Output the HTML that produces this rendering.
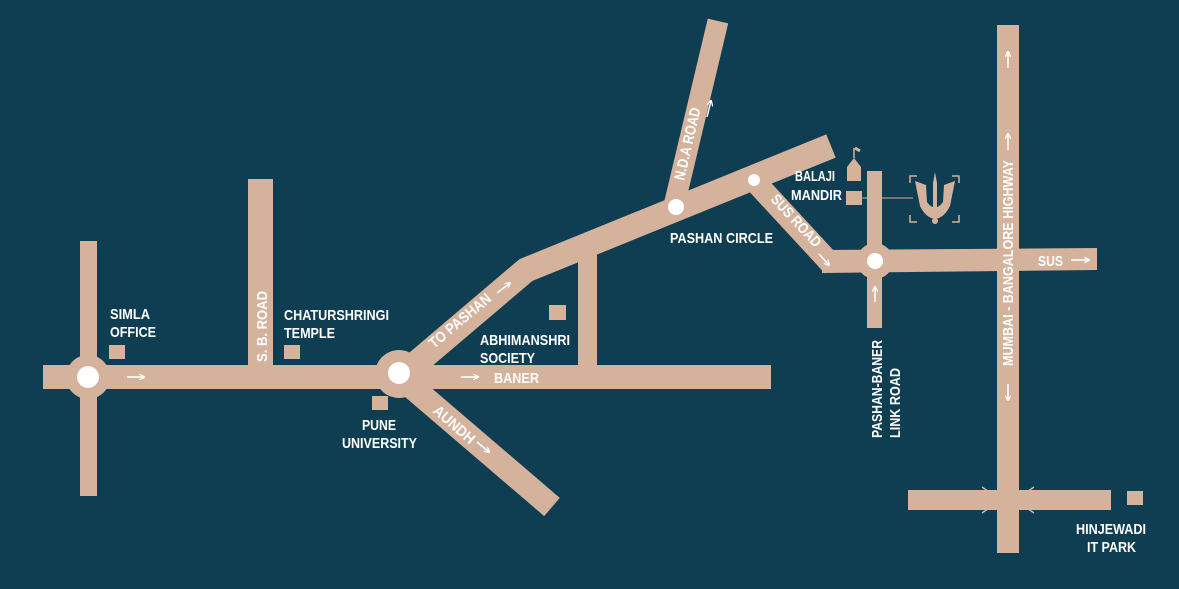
<!DOCTYPE html>
<html><head><meta charset="utf-8"><style>
html,body{margin:0;padding:0;background:#0f3d51;}
svg{display:block}
text{font-family:"Liberation Sans",sans-serif;font-weight:bold;fill:#fff;font-size:15px;}
</style></head><body>
<svg width="1179" height="589" viewBox="0 0 1179 589" xmlns="http://www.w3.org/2000/svg">
<rect width="1179" height="589" fill="#0f3d51"/>
<defs>
<marker id="ah" markerWidth="6" markerHeight="6" refX="5" refY="3" orient="auto" markerUnits="userSpaceOnUse"><path d="M0,0 L6,3 L0,6" fill="none" stroke="#fff" stroke-width="1.3"/></marker>
</defs>
<g fill="#d5b29c" stroke="none">
<rect x="43" y="365" width="728" height="24"/>
<rect x="80" y="241" width="17" height="255"/>
<circle cx="88" cy="377" r="22"/>
<rect x="248" y="179" width="25" height="190"/>
<circle cx="399" cy="374" r="24"/>
<rect x="578" y="255" width="19" height="112"/>
<rect x="997" y="25" width="22" height="528"/>
<rect x="908" y="490" width="203" height="20"/>
<rect x="867" y="171" width="15" height="157"/>
<circle cx="875" cy="261" r="18"/>
<polygon points="822,250 1097,248 1097,270 822,273"/>
<rect x="109" y="345" width="16" height="14"/>
<rect x="284" y="345" width="16" height="14"/>
<rect x="372" y="396" width="16" height="14"/>
<rect x="549" y="305" width="17" height="15"/>
<rect x="1127" y="491" width="16" height="14"/>
<rect x="847" y="167" width="14" height="14"/>
<rect x="846" y="191" width="16" height="14"/>
<polygon points="847,167 854,158 861,167"/>
</g>
<g stroke="#d5b29c" fill="none" stroke-linecap="butt">
<line x1="399" y1="376" x2="552" y2="507" stroke-width="24"/>
<polyline points="394,382 526,270 831,146" stroke-width="25" stroke-linejoin="round"/>
<line x1="673" y1="210" x2="718" y2="21" stroke-width="21"/>
<line x1="748" y1="174" x2="833" y2="266" stroke-width="22"/>
<line x1="854" y1="158" x2="854" y2="148" stroke-width="1.5"/>
</g>
<line x1="855" y1="148" x2="860" y2="151" stroke="#d5b29c" stroke-width="3"/>
<g stroke="#d5b29c" stroke-width="1.5">
<line x1="982" y1="487" x2="989" y2="492"/><line x1="982" y1="513" x2="989" y2="508"/>
<line x1="1034" y1="487" x2="1027" y2="492"/><line x1="1034" y1="513" x2="1027" y2="508"/>
</g>
<g fill="#fff">
<circle cx="88" cy="377" r="11"/>
<circle cx="399" cy="373" r="11"/>
<circle cx="676" cy="207" r="8"/>
<circle cx="754" cy="180" r="6"/>
<circle cx="875" cy="261" r="8"/>
</g>
<g stroke="#fff" stroke-width="1.5" marker-end="url(#ah)">
<line x1="127" y1="377" x2="144" y2="377"/>
<line x1="461" y1="377" x2="478" y2="377"/>
<line x1="1071" y1="260" x2="1089" y2="260"/>
<line x1="875" y1="302" x2="875" y2="287"/>
<line x1="1008" y1="68" x2="1008" y2="52"/>
<line x1="1008" y1="150" x2="1008" y2="134"/>
<line x1="1008" y1="384" x2="1008" y2="400"/>
<line x1="497" y1="293" x2="510" y2="283"/>
<line x1="477" y1="442" x2="489" y2="452"/>
<line x1="819" y1="254" x2="829" y2="265"/>
<line x1="707" y1="117" x2="711" y2="101"/>
</g>
<line x1="862" y1="198" x2="913" y2="198" stroke="#d5b29c" stroke-width="1"/>
<g fill="none" stroke="#d5b29c" stroke-width="1.5">
<polyline points="910,183 910,176 917,176"/><polyline points="952,176 959,176 959,183"/>
<polyline points="910,215 910,222 917,222"/><polyline points="952,222 959,222 959,215"/>
</g>
<g fill="#d5b29c">
<path d="M915,181 L926,185 L927,202 Q935,213 943,202 L944,185 L955,181 L950,206 Q944,218 935,219 Q926,218 920,206 Z"/>
<polygon points="933,183 935,172 937,183 937,209 933,209"/>
<circle cx="935" cy="221" r="3"/>
</g>
<text x="110" y="319" textLength="40" lengthAdjust="spacingAndGlyphs">SIMLA</text>
<text x="110" y="337" textLength="46" lengthAdjust="spacingAndGlyphs">OFFICE</text>
<text x="284" y="320" textLength="105" lengthAdjust="spacingAndGlyphs">CHATURSHRINGI</text>
<text x="284" y="338" textLength="51" lengthAdjust="spacingAndGlyphs">TEMPLE</text>
<text x="362" y="430" textLength="34" lengthAdjust="spacingAndGlyphs">PUNE</text>
<text x="342" y="448" textLength="75" lengthAdjust="spacingAndGlyphs">UNIVERSITY</text>
<text x="480" y="345" textLength="90" lengthAdjust="spacingAndGlyphs">ABHIMANSHRI</text>
<text x="480" y="363" textLength="55" lengthAdjust="spacingAndGlyphs">SOCIETY</text>
<text x="494" y="383" textLength="45" lengthAdjust="spacingAndGlyphs">BANER</text>
<text x="670" y="243" textLength="103" lengthAdjust="spacingAndGlyphs">PASHAN CIRCLE</text>
<text x="795" y="181" textLength="40" lengthAdjust="spacingAndGlyphs">BALAJI</text>
<text x="791" y="200" textLength="51" lengthAdjust="spacingAndGlyphs">MANDIR</text>
<text x="1038" y="266" textLength="25" lengthAdjust="spacingAndGlyphs">SUS</text>
<text x="1076" y="534" textLength="70" lengthAdjust="spacingAndGlyphs">HINJEWADI</text>
<text x="1087" y="552" textLength="49" lengthAdjust="spacingAndGlyphs">IT PARK</text>
<text transform="translate(267,362) rotate(-90)" textLength="71" lengthAdjust="spacingAndGlyphs">S. B. ROAD</text>
<text transform="translate(434,349) rotate(-40)" textLength="76" lengthAdjust="spacingAndGlyphs">TO PASHAN</text>
<text transform="translate(432,412) rotate(41)" textLength="50" lengthAdjust="spacingAndGlyphs">AUNDH</text>
<text transform="translate(684,181) rotate(-77)" textLength="74" lengthAdjust="spacingAndGlyphs">N.D.A ROAD</text>
<text transform="translate(770,200) rotate(47)" textLength="66" lengthAdjust="spacingAndGlyphs">SUS ROAD</text>
<text transform="translate(882,438) rotate(-90)" textLength="98" lengthAdjust="spacingAndGlyphs">PASHAN-BANER</text>
<text transform="translate(900,438) rotate(-90)" textLength="70" lengthAdjust="spacingAndGlyphs">LINK ROAD</text>
<text transform="translate(1013,366) rotate(-90)" textLength="206" lengthAdjust="spacingAndGlyphs">MUMBAI - BANGALORE HIGHWAY</text>
</svg>
</body></html>
